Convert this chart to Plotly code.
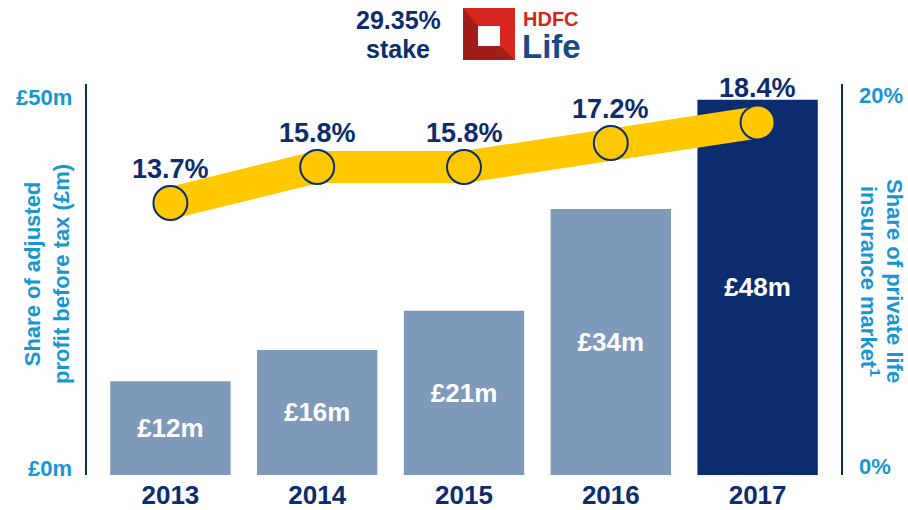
import plotly.graph_objects as go

years = ["2013", "2014", "2015", "2016", "2017"]
profit_m = [12, 16, 21, 34, 48]
profit_labels = ["£12m", "£16m", "£21m", "£34m", "£48m"]
market_share = [13.7, 15.8, 15.8, 17.2, 18.4]
share_labels = ["13.7%", "15.8%", "15.8%", "17.2%", "18.4%"]
left_ticks = ["£0m", "£50m"]
right_ticks = ["0%", "20%"]

NAVY = "#0B2C6E"
LIGHT = "#7F99BB"
YELLOW = "#FFC800"
CYAN = "#1896D3"
FONT = "Liberation Sans, Arial, sans-serif"

W, H = 908, 510
L, R, T, B = 86, 842, 84, 475

def px(x):
    return (x - L) / (R - L)

def py(y):
    return (B - y) / (B - T)

bar_colors = [LIGHT] * 4 + [NAVY]

fig = go.Figure()
fig.add_trace(go.Bar(
    x=years, y=profit_m, width=0.82,
    marker=dict(color=bar_colors, line=dict(width=0)),
    text=["<b>%s</b>" % t for t in profit_labels],
    textposition="inside", insidetextanchor="middle",
    textfont=dict(family=FONT, size=26, color="white"),
    hoverinfo="skip", yaxis="y",
))
fig.add_trace(go.Scatter(
    x=years, y=market_share, yaxis="y2",
    mode="lines+markers",
    line=dict(color=YELLOW, width=32),
    marker=dict(size=34, color=YELLOW, line=dict(color=NAVY, width=2)),
    cliponaxis=False, hoverinfo="skip",
))

ann = []
# line value labels (category axis positions are category indices)
for i, (v, lab) in enumerate(zip(market_share, share_labels)):
    ann.append(dict(x=i, y=v, xref="x", yref="y2", yshift=34, xanchor="center", yanchor="middle",
                    text="<b>%s</b>" % lab, showarrow=False,
                    font=dict(family=FONT, size=27, color=NAVY)))
# left tick labels
ann.append(dict(x=px(74), y=py(468), xref="paper", yref="paper", xanchor="right", yanchor="middle",
                text="<b>%s</b>" % left_ticks[0], showarrow=False, font=dict(family=FONT, size=22, color=CYAN)))
ann.append(dict(x=px(74), y=py(97), xref="paper", yref="paper", xanchor="right", yanchor="middle",
                text="<b>%s</b>" % left_ticks[1], showarrow=False, font=dict(family=FONT, size=22, color=CYAN)))
# right tick labels
ann.append(dict(x=px(857), y=py(466), xref="paper", yref="paper", xanchor="left", yanchor="middle",
                text="<b>%s</b>" % right_ticks[0], showarrow=False, font=dict(family=FONT, size=22, color=CYAN)))
ann.append(dict(x=px(857), y=py(95), xref="paper", yref="paper", xanchor="left", yanchor="middle",
                text="<b>%s</b>" % right_ticks[1], showarrow=False, font=dict(family=FONT, size=22, color=CYAN)))
# axis titles
ann.append(dict(x=px(47), y=py(274), xref="paper", yref="paper", xanchor="center", yanchor="middle",
                text="<b>Share of adjusted<br>profit before tax (£m)</b>", textangle=-90, showarrow=False,
                font=dict(family=FONT, size=22, color=CYAN)))
ann.append(dict(x=px(895), y=py(281), xref="paper", yref="paper", xanchor="center", yanchor="middle",
                text="<b>Share of private life</b>", textangle=90, showarrow=False,
                font=dict(family=FONT, size=22, color=CYAN)))
ann.append(dict(x=px(870), y=py(281), xref="paper", yref="paper", xanchor="center", yanchor="middle",
                text="<b>insurance market<sup>1</sup></b>", textangle=90, showarrow=False,
                font=dict(family=FONT, size=22, color=CYAN)))
# header
ann.append(dict(x=px(398), y=py(20), xref="paper", yref="paper", xanchor="center", yanchor="middle",
                text="<b>29.35%</b>", showarrow=False,
                font=dict(family=FONT, size=25, color=NAVY)))
ann.append(dict(x=px(398), y=py(49), xref="paper", yref="paper", xanchor="center", yanchor="middle",
                text="<b>stake</b>", showarrow=False,
                font=dict(family=FONT, size=25, color=NAVY)))
ann.append(dict(x=px(551), y=py(19), xref="paper", yref="paper", xanchor="center", yanchor="middle",
                text="<b>HDFC</b>", showarrow=False,
                font=dict(family=FONT, size=20, color="#D7261E")))
ann.append(dict(x=px(551), y=py(46), xref="paper", yref="paper", xanchor="center", yanchor="middle",
                text="<b>Life</b>", showarrow=False,
                font=dict(family=FONT, size=33, color="#174A8B")))

def P(x, y):
    return "%f,%f" % (px(x), py(y))

shapes = [
    dict(type="line", xref="paper", yref="paper", x0=0, x1=0, y0=0, y1=1, line=dict(color=NAVY, width=2)),
    dict(type="line", xref="paper", yref="paper", x0=1, x1=1, y0=0, y1=1, line=dict(color=NAVY, width=2)),
    # logo
    dict(type="rect", xref="paper", yref="paper", x0=px(463), x1=px(515), y0=py(60), y1=py(8),
         fillcolor="#D7261E", line=dict(width=0), layer="above"),
    dict(type="path", xref="paper", yref="paper",
         path="M %s L %s L %s L %s L %s L %s Z" % (P(463, 8), P(478, 26), P(478, 46), P(500, 46), P(515, 60), P(463, 60)),
         fillcolor="#A11D1A", line=dict(width=0), layer="above"),
    dict(type="rect", xref="paper", yref="paper", x0=px(478), x1=px(500), y0=py(46), y1=py(26),
         fillcolor="white", line=dict(width=0), layer="above"),
]

fig.update_layout(
    width=W, height=H,
    margin=dict(l=L, r=W - R, t=T, b=H - B, pad=0),
    plot_bgcolor="white", paper_bgcolor="white",
    showlegend=False,
    xaxis=dict(type="category", range=[-0.575, 4.575], showline=False, showgrid=False, zeroline=False,
               ticks="", automargin=False, ticklabelstandoff=2,
               tickfont=dict(family=FONT, size=26, color=NAVY, weight="bold")),
    yaxis=dict(range=[0, 50], showgrid=False, zeroline=False, showline=False, showticklabels=False, ticks="",
               automargin=False),
    yaxis2=dict(range=[-2.16, 20.64], overlaying="y", side="right", showgrid=False, zeroline=False,
                showline=False, showticklabels=False, ticks="", automargin=False),
    annotations=ann, shapes=shapes,
    bargap=0.18,
)

fig.write_html("out.html", config={"displayModeBar": False},
               post_script="document.body.style.margin='0';document.body.style.overflow='hidden';")
